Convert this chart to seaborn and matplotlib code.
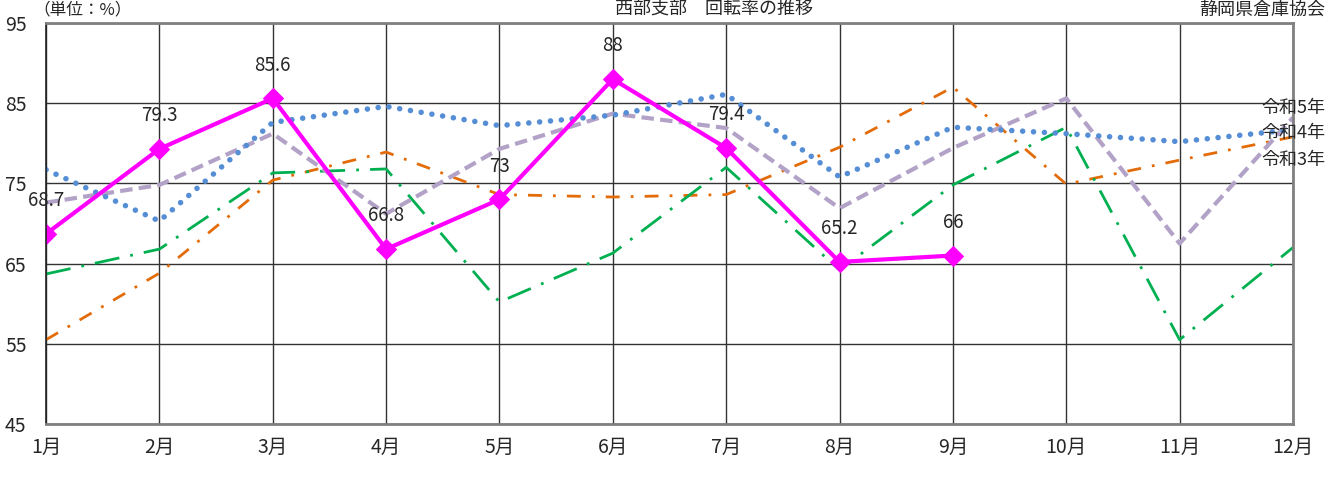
import pandas as pd
import matplotlib.pyplot as plt
import seaborn as sns

# data
months = ['1月', '2月', '3月', '4月', '5月', '6月', '7月', '8月', '9月', '10月', '11月', '12月']
r5 = [76.7, 70.3, 82.6, 84.6, 82.2, 83.5, 86.1, 75.8, 82.0, 81.2, 80.2, 81.7]
r4 = [55.5, 63.8, 75.4, 78.9, 73.6, 73.3, 73.6, 79.5, 87.0, 74.9, 77.9, 80.8]
r3 = [63.7, 66.8, 76.3, 76.8, 60.2, 66.3, 77.0, 64.2, 74.8, 82.0, 55.5, 67.0]
r2 = [72.6, 74.8, 81.2, 71.2, 79.3, 83.7, 81.9, 71.9, 79.4, 85.6, 67.5, 83.2]
r6 = [68.7, 79.3, 85.6, 66.8, 73, 88, 79.4, 65.2, 66]
side_labels = ['令和5年', '令和4年', '令和3年']

sns.set_style('white')
plt.rcParams['font.family'] = ['Noto Sans CJK JP', 'DejaVu Sans']

x = list(range(len(months)))
fig = plt.figure(figsize=(13.35, 4.79), dpi=100)
ax = fig.add_axes([0.0345, 0.115, 0.934, 0.837])

sns.lineplot(x=x, y=r4, ax=ax, color='#E36C09', lw=2, linestyle=(0, (5, 4, 1, 4)))
sns.lineplot(x=x, y=r3, ax=ax, color='#00B050', lw=2, linestyle=(0, (9, 4, 1, 4)))
sns.lineplot(x=x, y=r2, ax=ax, color='#B3A2C7', lw=3, linestyle=(0, (3, 1.5)))
sns.lineplot(x=x, y=r5, ax=ax, color='#558ED5', lw=4, linestyle=(0, (0.01, 1.95)),
             dash_capstyle='round')
sns.lineplot(x=x[:len(r6)], y=r6, ax=ax, color='#FF00FF', lw=3, marker='D',
             markersize=10, markeredgecolor='#FF00FF')

for i, v in enumerate(r6):
    ax.annotate(f'{v:g}', (i, v), xytext=(0, 24), textcoords='offset points',
                ha='center', va='center', fontsize=13.5)

for lab, yy in zip(side_labels, [0.788, 0.726, 0.658]):
    ax.text(0.975, yy, lab, transform=ax.transAxes, ha='left', va='center',
            fontsize=13, clip_on=False)

ax.set_xlim(0, 11)
ax.set_ylim(45, 95)
ax.set_xticks(x)
ax.set_xticklabels(months)
ax.set_yticks([45, 55, 65, 75, 85, 95])
ax.tick_params(axis='both', length=0, labelsize=14)
ax.tick_params(axis='y', pad=14)
ax.tick_params(axis='x', pad=9)
ax.grid(True, color='#333333', lw=1)
ax.set_axisbelow(True)
for s in ['top', 'right', 'bottom']:
    ax.spines[s].set_color('#808080')
    ax.spines[s].set_linewidth(2)
ax.spines['left'].set_color('#222222')
ax.spines['left'].set_linewidth(1.2)

fig.text(0.025, 0.998, '（単位：%）', ha='left', va='top', fontsize=12)
fig.text(0.535, 0.998, '西部支部　回転率の推移', ha='center', va='top', fontsize=13)
fig.text(0.993, 0.998, '静岡県倉庫協会', ha='right', va='top', fontsize=13)

fig.savefig('out.png', dpi=100)
